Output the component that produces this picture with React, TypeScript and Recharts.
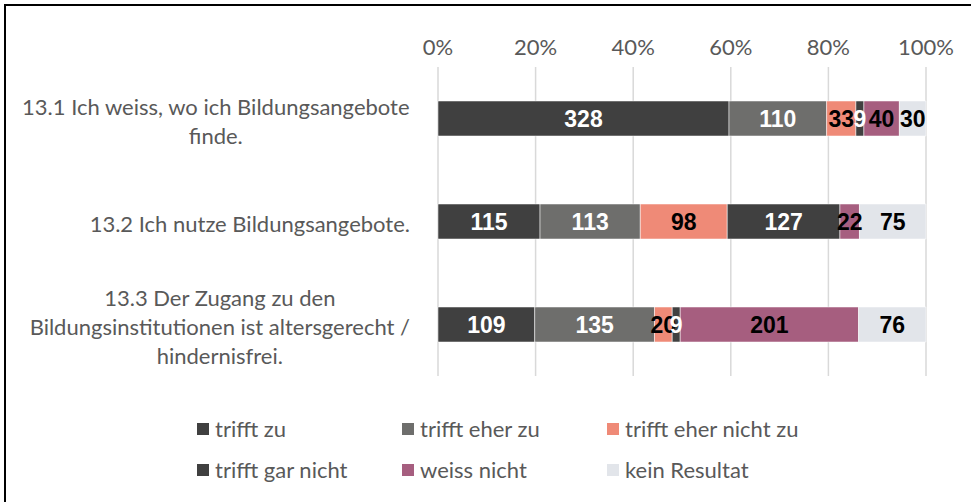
import React from "react";
import { BarChart, Bar, XAxis, YAxis, CartesianGrid, Legend, LabelList } from "recharts";

// Kategorien (Schlüssel) und die Zeilen, wie sie links umgebrochen stehen
const categories = ["13.1", "13.2", "13.3"];
const categoryLines = [
    ["13.1 Ich weiss, wo ich Bildungsangebote", "finde."],
    ["13.2 Ich nutze Bildungsangebote."],
    ["13.3 Der Zugang zu den", "Bildungsinstitutionen ist altersgerecht /", "hindernisfrei."],
];

// Anzahl Antworten pro Kategorie
const trifftZu = [328, 115, 109];
const trifftEherZu = [110, 113, 135];
const trifftEherNichtZu = [33, 98, 20];
const trifftGarNicht = [9, 127, 9];
const weissNicht = [40, 22, 201];
const keinResultat = [30, 75, 76];

const percentTicks = [0, 0.2, 0.4, 0.6, 0.8, 1];

const series = [
    { key: "trifftZu", name: "trifft zu", color: "#404040", label: "#ffffff" },
    { key: "trifftEherZu", name: "trifft eher zu", color: "#6e6e6c", label: "#ffffff" },
    { key: "trifftEherNichtZu", name: "trifft eher nicht zu", color: "#ef8a77", label: "#000000" },
    { key: "trifftGarNicht", name: "trifft gar nicht", color: "#404040", label: "#ffffff" },
    { key: "weissNicht", name: "weiss nicht", color: "#a65e7f", label: "#000000" },
    { key: "keinResultat", name: "kein Resultat", color: "#e2e5ea", label: "#000000" },
];

const data = categories.map((key, i) => ({
    key,
    trifftZu: trifftZu[i],
    trifftEherZu: trifftEherZu[i],
    trifftEherNichtZu: trifftEherNichtZu[i],
    trifftGarNicht: trifftGarNicht[i],
    weissNicht: weissNicht[i],
    keinResultat: keinResultat[i],
}));

const TEXT_FONT = "Lato, 'Open Sans', sans-serif";
const TEXT_SIZE = 22;
const GREY = "#595959";

let measureCtx: CanvasRenderingContext2D | null = null;
function measure(text: string) {
    if (!measureCtx) measureCtx = document.createElement("canvas").getContext("2d");
    if (!measureCtx) return text.length * 9;
    measureCtx.font = `${TEXT_SIZE}px Lato`;
    return measureCtx.measureText(text).width;
}

// linke Beschriftung: Block rechtsbündig, Zeilen darin zentriert
const CategoryTick = (props: any) => {
    const { x, y, index } = props;
    const lines = categoryLines[index] || [];
    const maxW = Math.max(...lines.map(measure));
    const cx = x - maxW / 2;
    const lh = 29;
    const startY = y + 2 - ((lines.length - 1) * lh) / 2;
    return (
        <g>
            {lines.map((l, i) => (
                <text key={i} x={cx} y={startY + i * lh} textAnchor="middle" dominantBaseline="central"
                    fill={GREY} fontSize={TEXT_SIZE} fontFamily={TEXT_FONT}>
                    {l}
                </text>
            ))}
        </g>
    );
};

// Legende direkt aus der Serienliste, in Reihenfolge
const renderLegend = () => (
    <div style={{ width: 971, height: 126, boxSizing: "border-box", paddingTop: 32, paddingLeft: 197,
        display: "grid", gridTemplateColumns: "205px 205px 205px", gridAutoRows: "41px" }}>
        {series.map((s) => (
            <div key={s.key} style={{ display: "flex", alignItems: "center", fontFamily: TEXT_FONT,
                fontSize: TEXT_SIZE, color: GREY, whiteSpace: "nowrap" }}>
                <span style={{ width: 12, height: 12, background: s.color, marginRight: 6, display: "inline-block", flexShrink: 0 }} />
                {s.name}
            </div>
        ))}
    </div>
);

export default function App() {
    return (
        <div style={{ position: "absolute", left: 0, top: 0, width: 971, height: 502, background: "#fff" }}>
            <BarChart width={971} height={502} data={data} layout="vertical" stackOffset="expand"
                margin={{ top: 37, right: 45, bottom: 0, left: 8 }}>
                <CartesianGrid horizontal={false} stroke="#d9d9d9" strokeWidth={1.5} />
                <XAxis type="number" orientation="top" domain={[0, 1]} ticks={percentTicks} height={30}
                    tickFormatter={(v: number) => `${Math.round(v * 100)}%`} axisLine={false} tickLine={false}
                    tickMargin={6} tick={{ fill: GREY, fontSize: TEXT_SIZE, fontFamily: TEXT_FONT }} />
                <YAxis type="category" dataKey="key" width={430} axisLine={false} tickLine={false}
                    tickMargin={22} tick={<CategoryTick />} />
                <Legend verticalAlign="bottom" content={renderLegend} wrapperStyle={{ left: 0, width: 971 }} />
                {series.map((s) => (
                    <Bar key={s.key} dataKey={s.key} name={s.name} stackId="a" fill={s.color} barSize={35}
                        stroke="#ffffff" strokeOpacity={0.5} strokeWidth={1} isAnimationActive={false}>
                        <LabelList dataKey={s.key} position="center" fill={s.label} fontSize={23}
                            fontWeight="bold" fontFamily="'Liberation Sans', Arial, sans-serif" />
                    </Bar>
                ))}
            </BarChart>
            <div style={{ position: "absolute", left: 4, top: 4, right: 0, bottom: 0,
                borderLeft: "2px solid #000", borderTop: "2px solid #000", pointerEvents: "none" }} />
        </div>
    );
}
